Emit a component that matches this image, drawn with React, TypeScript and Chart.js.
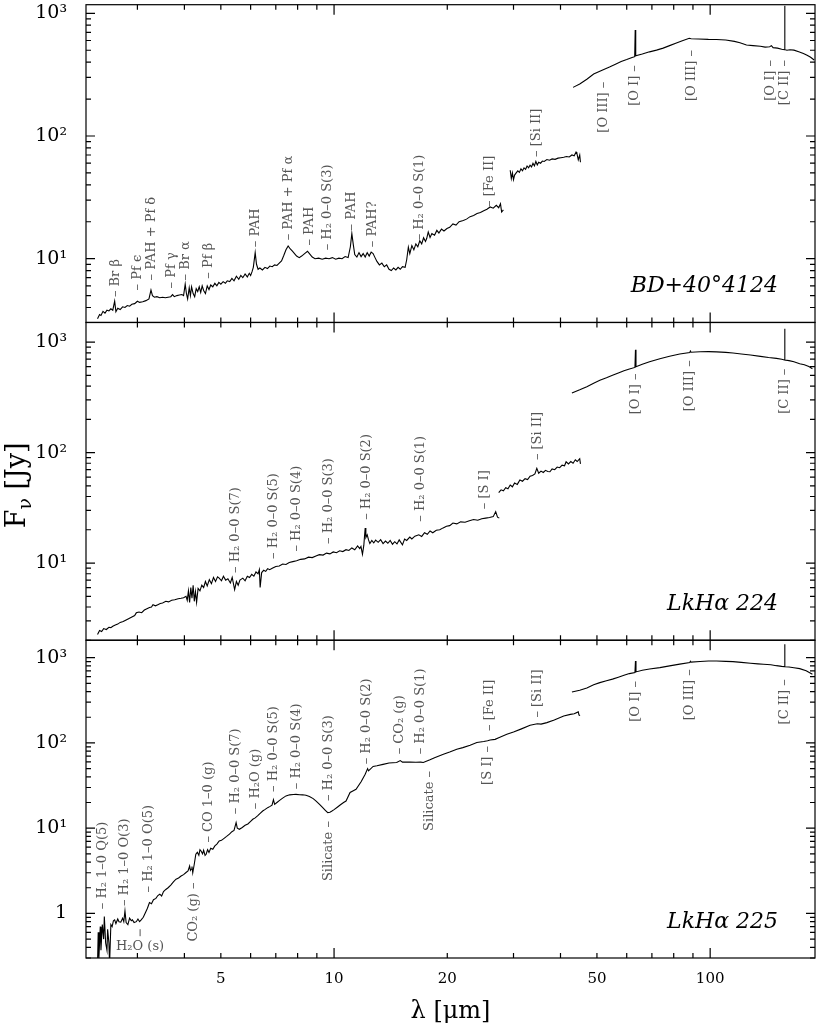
import React, { useEffect, useRef } from 'react';
import { Chart, registerables } from 'chart.js';

Chart.register(...registerables);

// ---------- axis ranges ----------
const X_MIN = 2.19;
const X_MAX = 190;
const Y1_RANGE = [3.02, 1175];
const Y2_RANGE = [2.0, 1506];
const Y3_RANGE = [0.307, 1600];
const X_TICK_LABELS = [5, 10, 20, 50, 100];
const PANEL_NAMES = ['BD+40°4124', 'LkHα 224', 'LkHα 225'];

// ---------- BD+40°4124 ----------
const bdSWS1: number[][] = [
  [2.35, 3.24], [2.38, 3.5], [2.4, 3.45], [2.43, 3.72], [2.46, 3.6], [2.49, 3.8], [2.52, 3.75], [2.55, 3.9],
  [2.58, 3.8], [2.61, 4.5], [2.63, 3.7], [2.66, 3.95], [2.7, 3.85], [2.74, 4.05], [2.78, 4.0], [2.82, 4.15],
  [2.86, 4.1], [2.9, 4.25], [2.95, 4.3], [3.0, 4.5], [3.04, 4.4], [3.1, 4.45], [3.16, 4.55], [3.22, 4.7],
  [3.26, 5.55], [3.29, 5.0], [3.33, 4.85], [3.38, 4.9], [3.44, 4.8], [3.5, 4.85], [3.56, 4.8], [3.62, 4.85],
  [3.68, 4.9], [3.72, 5.1], [3.76, 4.9], [3.82, 5.0], [3.88, 5.05], [3.94, 5.1], [3.98, 5.0], [4.02, 6.2],
  [4.05, 5.2], [4.08, 4.7], [4.12, 5.8], [4.15, 5.0], [4.18, 5.9], [4.22, 5.2], [4.26, 4.9], [4.3, 5.7],
  [4.34, 5.4], [4.38, 5.9], [4.42, 5.3], [4.46, 6.0], [4.5, 5.5], [4.55, 5.2], [4.6, 6.0], [4.65, 5.6],
  [4.7, 6.1], [4.76, 5.9], [4.82, 6.3], [4.88, 6.0], [4.94, 6.4], [5.0, 6.2], [5.07, 6.5], [5.14, 6.3],
  [5.2, 6.6], [5.28, 6.5], [5.35, 6.9], [5.42, 6.6], [5.5, 7.2], [5.58, 6.8], [5.65, 7.3], [5.72, 7.0],
  [5.8, 7.5], [5.88, 7.1], [5.95, 7.6], [6.0, 7.3], [6.05, 7.8], [6.1, 8.5], [6.17, 11.2], [6.22, 9.0],
  [6.28, 8.2], [6.35, 8.4], [6.45, 8.1], [6.55, 8.5], [6.65, 8.3], [6.75, 8.7], [6.85, 8.6], [6.95, 8.9],
  [7.05, 8.8], [7.15, 9.2], [7.25, 9.6], [7.35, 10.6], [7.45, 11.8], [7.55, 12.7], [7.65, 12.0], [7.75, 11.5],
  [7.85, 11.0], [7.95, 10.5], [8.08, 10.2], [8.2, 10.5], [8.35, 11.0], [8.5, 11.5], [8.6, 11.0], [8.75, 10.3],
  [8.9, 10.0], [9.1, 10.1], [9.3, 9.9], [9.5, 10.1], [9.7, 10.0], [9.9, 10.2], [10.1, 9.9], [10.3, 10.1],
  [10.5, 10.0], [10.7, 10.4], [10.9, 10.2], [11.05, 12.5], [11.15, 16.0], [11.25, 13.0], [11.35, 10.8], [11.5, 10.3],
  [11.65, 11.2], [11.8, 10.4], [11.95, 11.0], [12.1, 10.3], [12.25, 11.2], [12.4, 10.5], [12.55, 11.3], [12.7, 11.0],
  [12.85, 10.2], [13.0, 9.5], [13.2, 8.9], [13.4, 9.2], [13.6, 8.6], [13.8, 8.9], [14.0, 8.2], [14.2, 8.0],
  [14.4, 8.4], [14.6, 8.1], [14.8, 8.5], [15.0, 8.2], [15.2, 8.6], [15.45, 8.5], [15.6, 9.8], [15.76, 12.4],
  [15.9, 11.0], [16.1, 12.8], [16.3, 11.8], [16.5, 13.2], [16.7, 12.5], [16.9, 14.0], [17.1, 13.2], [17.3, 14.8],
  [17.5, 13.8], [17.63, 14.6], [17.8, 16.5], [18.0, 14.9], [18.2, 16.0], [18.5, 15.5], [18.76, 17.0], [19.0, 16.2],
  [19.3, 17.4], [19.6, 16.8], [19.96, 17.6], [20.3, 18.0], [20.7, 19.2], [21.1, 18.8], [21.5, 20.0], [22.06, 20.5],
  [22.5, 21.0], [23.0, 22.0], [23.5, 22.5], [24.0, 23.3], [24.5, 23.8], [25.0, 24.6], [25.5, 25.3], [26.0, 26.4],
  [26.5, 25.8], [27.0, 27.2], [27.4, 26.0], [27.7, 28.0], [27.9, 24.0], [28.2, 25.0],
];
const bdSWS2: number[][] = [
  [29.4, 52.6], [29.6, 45], [29.8, 50], [30.0, 44], [30.2, 48], [30.5, 50], [30.8, 52], [31.1, 50.5],
  [31.4, 54], [31.7, 52], [32.0, 55], [32.3, 53.5], [32.6, 57], [32.9, 55], [33.2, 57.8], [33.5, 56],
  [33.8, 60], [34.1, 57], [34.4, 62], [34.7, 58], [35.0, 61], [35.4, 60], [35.8, 62.5], [36.2, 62],
  [36.8, 64.3], [37.4, 63.5], [38.0, 65], [38.7, 64.5], [39.4, 66], [40.1, 66.5], [40.8, 67], [41.5, 68],
  [42.2, 67.5], [42.9, 70], [43.5, 69], [44.0, 74], [44.2, 72.8], [44.6, 64], [45.0, 70], [45.2, 61],
];
const bdLWS: number[][] = [
  [43.2, 249], [45, 265], [47, 290], [49, 320], [51.6, 344], [54, 365], [56, 385], [58, 405],
  [60, 420], [62, 437], [63.0, 443], [63.2, 731], [63.4, 450], [66, 465], [69, 485], [72, 501],
  [75, 520], [78, 545], [81, 570], [84, 595], [88, 625], [89, 620], [93, 618], [98.9, 613],
  [104, 612], [110, 605], [116, 590], [120, 575], [124.9, 551], [130, 545], [136, 538], [140, 530],
  [144, 534], [145.5, 545], [147, 525], [151, 520], [155, 510], [157.6, 505], [157.8, 1150], [158.1, 505],
  [160, 500], [163, 505], [167, 501], [172, 485], [177, 470], [181, 455], [185, 438], [189, 416],
];

// ---------- LkHα 224 ----------
const lk224SWS1: number[][] = [
  [2.35, 2.25], [2.38, 2.45], [2.41, 2.4], [2.44, 2.55], [2.48, 2.5], [2.52, 2.62], [2.55, 2.6], [2.58, 2.68],
  [2.62, 2.75], [2.66, 2.8], [2.7, 2.9], [2.75, 2.95], [2.8, 3.05], [2.85, 3.15], [2.9, 3.25], [2.95, 3.35],
  [2.98, 3.54], [3.03, 3.6], [3.08, 3.55], [3.13, 3.75], [3.18, 3.85], [3.23, 3.95], [3.27, 4.0], [3.3, 4.2],
  [3.35, 4.1], [3.4, 4.2], [3.45, 4.3], [3.5, 4.35], [3.57, 4.5], [3.63, 4.45], [3.7, 4.6], [3.77, 4.65],
  [3.85, 4.75], [3.92, 4.8], [3.98, 4.85], [4.04, 5.0], [4.07, 4.6], [4.1, 5.6], [4.13, 4.4], [4.16, 6.0],
  [4.19, 4.8], [4.22, 6.3], [4.25, 4.5], [4.28, 5.5], [4.31, 4.4], [4.35, 5.9], [4.4, 5.6], [4.45, 6.3],
  [4.5, 6.0], [4.55, 6.8], [4.6, 6.2], [4.66, 7.07], [4.72, 6.5], [4.78, 7.4], [4.84, 6.8], [4.9, 7.5],
  [4.95, 7.3], [5.02, 6.9], [5.08, 7.6], [5.15, 7.0], [5.22, 7.2], [5.3, 6.6], [5.36, 7.4], [5.44, 5.74],
  [5.5, 6.8], [5.56, 6.3], [5.62, 7.0], [5.72, 7.3], [5.8, 6.9], [5.88, 7.6], [5.96, 7.4], [6.04, 7.9],
  [6.12, 7.6], [6.2, 8.3], [6.28, 8.0], [6.33, 8.7], [6.36, 6.0], [6.42, 8.2], [6.5, 8.6], [6.58, 8.4],
  [6.66, 8.9], [6.74, 8.7], [6.87, 9.0], [7.0, 9.3], [7.15, 9.4], [7.3, 9.8], [7.45, 9.7], [7.6, 10.1],
  [7.77, 10.3], [7.95, 10.5], [8.15, 10.8], [8.35, 10.9], [8.55, 11.3], [8.75, 11.2], [8.95, 11.6], [9.14, 11.9],
  [9.35, 11.8], [9.55, 12.3], [9.75, 12.1], [9.95, 12.6], [10.15, 12.4], [10.35, 12.9], [10.55, 12.7], [10.76, 13.2],
  [10.95, 13.0], [11.15, 13.7], [11.35, 13.2], [11.55, 14.3], [11.7, 13.5], [11.79, 14.1], [11.9, 12.0], [12.0, 14.5],
  [12.05, 17.5], [12.1, 20.7], [12.15, 17.0], [12.25, 18.0], [12.35, 16.2], [12.45, 15.0], [12.6, 16.0], [12.75, 15.2],
  [12.9, 16.1], [13.1, 15.4], [13.3, 16.3], [13.5, 15.0], [13.7, 15.8], [13.9, 15.1], [14.1, 16.0], [14.3, 14.8],
  [14.5, 15.6], [14.7, 14.9], [14.9, 16.2], [15.2, 14.6], [15.4, 16.5], [15.6, 16.0], [15.9, 17.2], [16.1, 16.5],
  [16.4, 17.5], [16.8, 18.0], [17.1, 17.4], [17.4, 18.8], [17.7, 18.2], [18.0, 19.5], [18.3, 18.8], [18.7, 19.8],
  [19.1, 20.0], [19.5, 20.8], [19.9, 21.5], [20.3, 21.8], [20.7, 23.0], [21.2, 22.6], [21.7, 23.6], [22.3, 23.4],
  [22.9, 24.1], [23.5, 24.8], [24.1, 24.4], [24.7, 25.2], [25.3, 25.5], [25.9, 25.8], [26.5, 26.3], [26.9, 29.2],
  [27.2, 26.0], [27.5, 25.5],
];
const lk224SWS2: number[][] = [
  [27.4, 43.4], [27.8, 46], [28.2, 45], [28.6, 48], [29.0, 47], [29.4, 50.9], [29.8, 49], [30.2, 53],
  [30.7, 51.5], [31.2, 56.5], [31.7, 55], [32.2, 58], [32.7, 57], [33.2, 61], [33.7, 62], [34.2, 64],
  [34.6, 72], [35.0, 65], [35.5, 68], [36.0, 66], [36.5, 69], [37.0, 67.5], [37.5, 67], [38.0, 71],
  [38.6, 70], [39.2, 74], [39.8, 73], [40.4, 77], [41.0, 76], [41.4, 82.6], [42.0, 79], [42.6, 83],
  [43.2, 80], [43.8, 86], [44.3, 83], [44.6, 85], [45.0, 88], [45.2, 79],
];
const lk224LWS: number[][] = [
  [42.9, 346], [45, 370], [47, 395], [49, 425], [50.9, 451], [53, 475], [55, 500], [57, 525],
  [59, 550], [61, 572], [63.1, 590], [63.3, 854], [63.5, 598], [66, 630], [69, 665], [73.5, 708],
  [78, 745], [83, 780], [88.3, 805], [88.6, 830], [89, 810], [94, 818], [99, 820], [104, 815],
  [110, 808], [115, 796], [121, 780], [128, 765], [136, 743], [143, 725], [150, 712], [155, 700],
  [157.6, 690], [157.8, 1321], [158.1, 688], [162, 680], [167, 665], [173, 638], [178, 625], [183, 600],
  [187, 575],
];

// ---------- LkHα 225 ----------
const lk225SWS: number[][] = [
  [2.35, 0.25], [2.36, 0.6], [2.37, 0.3], [2.39, 0.7], [2.4, 0.37], [2.42, 0.74], [2.44, 0.5], [2.45, 0.92],
  [2.47, 0.45], [2.49, 0.37], [2.5, 0.65], [2.52, 0.45], [2.53, 0.25], [2.55, 0.74], [2.57, 0.7], [2.59, 0.82],
  [2.61, 0.84], [2.63, 0.76], [2.66, 0.86], [2.68, 0.8], [2.71, 0.79], [2.74, 0.88], [2.76, 0.8], [2.78, 1.07],
  [2.8, 0.78], [2.83, 0.74], [2.86, 0.88], [2.89, 0.82], [2.91, 0.84], [2.94, 0.78], [2.98, 0.8], [3.01, 0.86],
  [3.04, 0.8], [3.07, 0.84], [3.11, 0.9], [3.15, 1.02], [3.19, 1.15], [3.23, 1.34], [3.27, 1.3], [3.31, 1.45],
  [3.36, 1.5], [3.4, 1.62], [3.44, 1.68], [3.48, 1.6], [3.52, 1.8], [3.57, 1.91], [3.62, 2.0], [3.68, 2.15],
  [3.74, 2.35], [3.8, 2.52], [3.86, 2.6], [3.92, 2.75], [3.98, 2.85], [4.04, 3.02], [4.09, 3.15], [4.13, 3.6],
  [4.15, 3.2], [4.17, 3.3], [4.19, 3.55], [4.21, 3.0], [4.25, 3.8], [4.29, 4.94], [4.33, 5.2], [4.37, 4.8],
  [4.4, 5.6], [4.43, 5.4], [4.47, 5.0], [4.5, 5.5], [4.54, 4.8], [4.57, 4.94], [4.61, 5.6], [4.65, 5.2],
  [4.7, 5.8], [4.76, 5.66], [4.82, 6.2], [4.88, 6.5], [4.95, 7.08], [5.02, 7.2], [5.1, 7.6], [5.18, 8.0],
  [5.27, 8.5], [5.35, 9.1], [5.42, 9.4], [5.49, 11.6], [5.53, 10.0], [5.6, 9.7], [5.7, 10.2], [5.8, 10.8],
  [5.9, 11.2], [6.0, 12.0], [6.08, 12.7], [6.17, 13.2], [6.27, 14.0], [6.37, 15.0], [6.46, 15.9], [6.56, 16.6],
  [6.66, 17.4], [6.76, 18.0], [6.84, 18.6], [6.9, 21.6], [6.95, 19.0], [7.05, 20.0], [7.15, 21.0], [7.3, 22.5],
  [7.45, 23.9], [7.62, 24.6], [7.8, 24.8], [7.92, 24.9], [8.1, 24.7], [8.25, 24.6], [8.42, 24.3], [8.6, 23.5],
  [8.8, 22.2], [8.96, 20.8], [9.15, 19.0], [9.33, 17.4], [9.48, 16.2], [9.62, 15.2], [9.75, 15.4], [9.85, 15.8],
  [10.0, 16.5], [10.2, 17.6], [10.4, 18.8], [10.6, 20.0], [10.76, 20.8], [11.03, 26.2], [11.25, 27.5], [11.44, 28.6],
  [11.8, 35], [12.1, 43], [12.28, 50], [12.35, 47], [12.7, 53], [13.0, 54], [13.5, 56], [14.0, 58],
  [14.67, 59], [15.0, 62], [15.2, 59.5], [15.93, 59.8], [16.5, 59.3], [17.0, 59.5], [17.27, 59], [17.99, 63.4],
  [18.5, 67], [19.53, 73.5], [20.3, 78], [21.2, 84.1], [22.0, 88], [23.0, 94], [23.97, 101], [25.0, 104],
  [25.6, 106], [26.0, 108], [26.8, 110], [27.5, 116], [28.8, 126], [30.0, 134], [31.5, 146], [33.2, 161],
  [34.7, 168], [35.5, 166], [36.8, 173], [38.5, 186], [40.8, 207], [42.5, 216], [43.5, 220], [44.6, 231],
  [44.8, 212], [45.1, 210],
];
const lk225LWS: number[][] = [
  [42.9, 395], [45, 415], [47, 440], [49, 480], [50.9, 509], [53, 535], [55, 560], [57, 590],
  [59, 620], [61, 650], [63.1, 670], [63.3, 912], [63.5, 680], [66, 710], [69, 735], [73.5, 764],
  [78, 800], [83, 840], [88.3, 875], [88.6, 905], [89, 885], [94, 900], [99, 912], [104, 912],
  [110, 905], [115, 898], [121, 880], [128, 860], [134, 845], [138.6, 835], [145, 825], [150, 805],
  [155, 790], [157.6, 784], [157.8, 1432], [158.1, 782], [162, 775], [167, 760], [173, 743], [180, 700],
  [187, 637],
];

// ---------- line identifications: [text, λ, Fν anchor, direction] ----------
const labels1: [string, number, number, string][] = [
  ['Br β', 2.62, 4.86, 'up'],
  ['Pf ϵ', 3.01, 5.51, 'up'],
  ['PAH + Pf δ', 3.28, 6.65, 'up'],
  ['Pf γ', 3.7, 5.72, 'up'],
  ['Br α', 4.02, 6.65, 'up'],
  ['Pf β', 4.63, 6.87, 'up'],
  ['PAH', 6.17, 12.4, 'up'],
  ['PAH + Pf α', 7.56, 14.1, 'up'],
  ['PAH', 8.59, 12.8, 'up'],
  ['H₂ 0–0 S(3)', 9.64, 11.7, 'up'],
  ['PAH', 11.16, 17.0, 'up'],
  ['PAH?', 12.66, 12.4, 'up'],
  ['H₂ 0–0 S(1)', 16.9, 14.1, 'up'],
  ['[Fe II]', 25.9, 26.4, 'up'],
  ['[Si II]', 34.6, 67.5, 'up'],
  ['[O III]', 52.1, 277, 'down'],
  ['[O I]', 63.0, 378, 'down'],
  ['[O III]', 89.0, 501, 'down'],
  ['[O I]', 144.7, 416, 'down'],
  ['[C II]', 157.8, 416, 'down'],
];
const labels2: [string, number, number, string][] = [
  ['H₂ 0–0 S(7)', 5.49, 8.13, 'up'],
  ['H₂ 0–0 S(5)', 6.9, 10.9, 'up'],
  ['H₂ 0–0 S(4)', 7.96, 12.7, 'up'],
  ['H₂ 0–0 S(3)', 9.66, 14.9, 'up'],
  ['H₂ 0–0 S(2)', 12.2, 24.6, 'up'],
  ['H₂ 0–0 S(1)', 17.0, 23.7, 'up'],
  ['[S I]', 25.2, 30.7, 'up'],
  ['[Si II]', 34.7, 85.5, 'up'],
  ['[O I]', 63.3, 519, 'down'],
  ['[O III]', 88.4, 684, 'down'],
  ['[C II]', 158, 575, 'down'],
];
const labels3: [string, number, number, string][] = [
  ['H₂ 1–0 Q(5)', 2.43, 1.12, 'up'],
  ['H₂ 1–0 O(3)', 2.78, 1.22, 'up'],
  ['H₂ 1–0 O(5)', 3.21, 1.76, 'up'],
  ['H₂O (s)', 3.05, 0.653, 'flat'],
  ['CO₂ (g)', 4.23, 2.3, 'down'],
  ['CO 1–0 (g)', 4.63, 6.78, 'up'],
  ['H₂ 0–0 S(7)', 5.49, 14.6, 'up'],
  ['H₂O (g)', 6.17, 16.7, 'up'],
  ['H₂ 0–0 S(5)', 6.9, 26.6, 'up'],
  ['H₂ 0–0 S(4)', 7.96, 28.6, 'up'],
  ['Silicate', 9.66, 12.1, 'down'],
  ['H₂ 0–0 S(3)', 9.66, 20.8, 'up'],
  ['H₂ 0–0 S(2)', 12.2, 56.1, 'up'],
  ['CO₂ (g)', 14.98, 73.5, 'up'],
  ['H₂ 0–0 S(1)', 17.0, 73.5, 'up'],
  ['Silicate', 18.0, 46.9, 'down'],
  ['[S I]', 25.6, 92, 'down'],
  ['[Fe II]', 25.9, 138, 'up'],
  ['[Si II]', 34.7, 198, 'up'],
  ['[O I]', 63.3, 532, 'down'],
  ['[O III]', 88.4, 729, 'down'],
  ['[C II]', 158, 557, 'down'],
];

const SERIF = '"DejaVu Serif", "Liberation Serif", serif';
const SUP: Record<number, string> = { 1: '¹', 2: '²', 3: '³' };
const PANELS = ['y1', 'y2', 'y3'];
const LABEL_SETS = [labels1, labels2, labels3];

function seg(points: number[][], axis: string) {
  return {
    type: 'line' as const,
    data: points.map(([x, y]) => ({ x, y })),
    yAxisID: axis,
    xAxisID: 'x',
    borderColor: '#000',
    borderWidth: 1.1,
    pointRadius: 0,
    fill: false,
    tension: 0,
  };
}

function yScale(range: number[], weight: number) {
  return {
    type: 'logarithmic' as const,
    position: 'left' as const,
    stack: 'panels',
    stackWeight: 1,
    weight,
    min: range[0],
    max: range[1],
    grid: { display: false },
    border: { display: false },
    ticks: {
      autoSkip: false,
      padding: 11,
      color: '#000',
      font: { family: SERIF, size: 19 },
      callback: (v: any) => {
        const val = Number(v);
        const e = Math.round(Math.log10(val));
        if (Math.abs(val - Math.pow(10, e)) > 1e-6 * Math.pow(10, e)) return '';
        return e === 0 ? '1' : '10' + (SUP[e] || '');
      },
    },
    afterFit: (s: any) => {
      s.width = 86;
      s.paddingTop = 0;
      s.paddingBottom = 0;
    },
  };
}

const framePlugin = {
  id: 'frames',
  afterDraw(chart: any) {
    const { ctx, chartArea: ca } = chart;
    const xs = chart.scales.x;
    ctx.save();
    // frames and ticks
    ctx.strokeStyle = '#000';
    ctx.lineWidth = 1.2;
    PANELS.forEach((id) => {
      const ys = chart.scales[id];
      const top = ys.top;
      const bot = ys.bottom;
      ctx.strokeRect(ca.left, top, ca.right - ca.left, bot - top);
      ctx.beginPath();
      for (let e = 0; e <= 2; e++) {
        for (let m = 1; m <= 9; m++) {
          const v = m * Math.pow(10, e);
          if (v < X_MIN || v > X_MAX) continue;
          const px = xs.getPixelForValue(v);
          const L = m === 1 ? 10 : 5;
          ctx.moveTo(px, bot);
          ctx.lineTo(px, bot - L);
          ctx.moveTo(px, top);
          ctx.lineTo(px, top + L);
        }
      }
      for (let e = -1; e <= 3; e++) {
        for (let m = 1; m <= 9; m++) {
          const v = m * Math.pow(10, e);
          if (v < ys.min || v > ys.max) continue;
          const py = ys.getPixelForValue(v);
          const L = m === 1 ? 9 : 5;
          ctx.moveTo(ca.left, py);
          ctx.lineTo(ca.left + L, py);
          ctx.moveTo(ca.right, py);
          ctx.lineTo(ca.right - L, py);
        }
      }
      ctx.stroke();
    });

    // line identifications
    ctx.fillStyle = '#555';
    ctx.strokeStyle = '#555';
    ctx.lineWidth = 1;
    ctx.font = '13px ' + SERIF;
    PANELS.forEach((id, i) => {
      const ys = chart.scales[id];
      LABEL_SETS[i].forEach(([text, lx, fy, dir]) => {
        const px = xs.getPixelForValue(lx);
        const py = ys.getPixelForValue(fy);
        if (dir === 'flat') {
          ctx.beginPath();
          ctx.moveTo(px, py);
          ctx.lineTo(px, py + 7);
          ctx.stroke();
          ctx.textAlign = 'center';
          ctx.textBaseline = 'alphabetic';
          ctx.fillText(text, px, py + 21);
          return;
        }
        ctx.save();
        ctx.translate(px, py);
        ctx.rotate(-Math.PI / 2);
        ctx.textBaseline = 'middle';
        if (dir === 'up') {
          ctx.textAlign = 'left';
          ctx.fillText('– ' + text, 0, 0);
        } else {
          ctx.textAlign = 'right';
          ctx.fillText(text + ' –', 0, 0);
        }
        ctx.restore();
      });
    });

    // panel names
    ctx.fillStyle = '#000';
    ctx.font = 'italic 22px ' + SERIF;
    ctx.textAlign = 'right';
    ctx.textBaseline = 'alphabetic';
    PANELS.forEach((id, i) => {
      const ys = chart.scales[id];
      ctx.fillText(PANEL_NAMES[i], ca.right - 37, ys.bottom - 30);
    });

    // y axis title  F_ν [Jy]
    const mid = chart.scales.y2;
    const cy = (mid.top + mid.bottom) / 2 + 4;
    ctx.save();
    ctx.translate(25, cy);
    ctx.rotate(-Math.PI / 2);
    ctx.textAlign = 'left';
    ctx.textBaseline = 'alphabetic';
    const big = '27px ' + SERIF;
    const small = '19px ' + SERIF;
    ctx.font = big;
    const wF = ctx.measureText('F').width;
    const wRest = ctx.measureText(' [Jy]').width;
    ctx.font = small;
    const wNu = ctx.measureText('ν').width;
    let x0 = -(wF + wNu + wRest) / 2;
    ctx.font = big;
    ctx.fillText('F', x0, 0);
    x0 += wF;
    ctx.font = small;
    ctx.fillText('ν', x0, 6);
    x0 += wNu;
    ctx.font = big;
    ctx.fillText(' [Jy]', x0, 0);
    ctx.restore();

    ctx.restore();
  },
};

export default function App() {
  const ref = useRef<HTMLCanvasElement | null>(null);
  useEffect(() => {
    if (!ref.current) return;
    const chart = new Chart(ref.current, {
      type: 'line',
      data: {
        datasets: [
          seg(bdSWS1, 'y1'), seg(bdSWS2, 'y1'), seg(bdLWS, 'y1'),
          seg(lk224SWS1, 'y2'), seg(lk224SWS2, 'y2'), seg(lk224LWS, 'y2'),
          seg(lk225SWS, 'y3'), seg(lk225LWS, 'y3'),
        ] as any,
      },
      options: {
        responsive: false,
        devicePixelRatio: 1,
        animation: false,
        events: [],
        layout: { padding: { left: 0, right: 2, top: 4.7, bottom: 0 } },
        plugins: { legend: { display: false }, tooltip: { enabled: false } },
        scales: {
          x: {
            type: 'logarithmic',
            position: 'bottom',
            min: X_MIN,
            max: X_MAX,
            grid: { display: false },
            border: { display: false },
            ticks: {
              autoSkip: false,
              maxRotation: 0,
              minRotation: 0,
              padding: 4,
              color: '#000',
              font: { family: SERIF, size: 15 },
              callback: (v: any) => {
                const val = Number(v);
                const hit = X_TICK_LABELS.find((l) => Math.abs(val - l) < 1e-6 * l);
                return hit ? String(hit) : '';
              },
            },
            title: {
              display: true,
              text: 'λ [μm]',
              color: '#000',
              font: { family: SERIF, size: 24 },
              padding: { top: 0, bottom: 0 },
            },
            afterFit: (s: any) => {
              s.height = 68;
              s.paddingLeft = 0;
              s.paddingRight = 0;
            },
          },
          y1: yScale(Y1_RANGE, 3),
          y2: yScale(Y2_RANGE, 2),
          y3: yScale(Y3_RANGE, 1),
        } as any,
      },
      plugins: [framePlugin],
    });
    return () => chart.destroy();
  }, []);
  return (
    <div style={{ position: 'absolute', left: 0, top: 0, width: 817, height: 1026, background: '#fff' }}>
      <canvas ref={ref} width={817} height={1026} style={{ display: 'block', width: 817, height: 1026 }} />
    </div>
  );
}
